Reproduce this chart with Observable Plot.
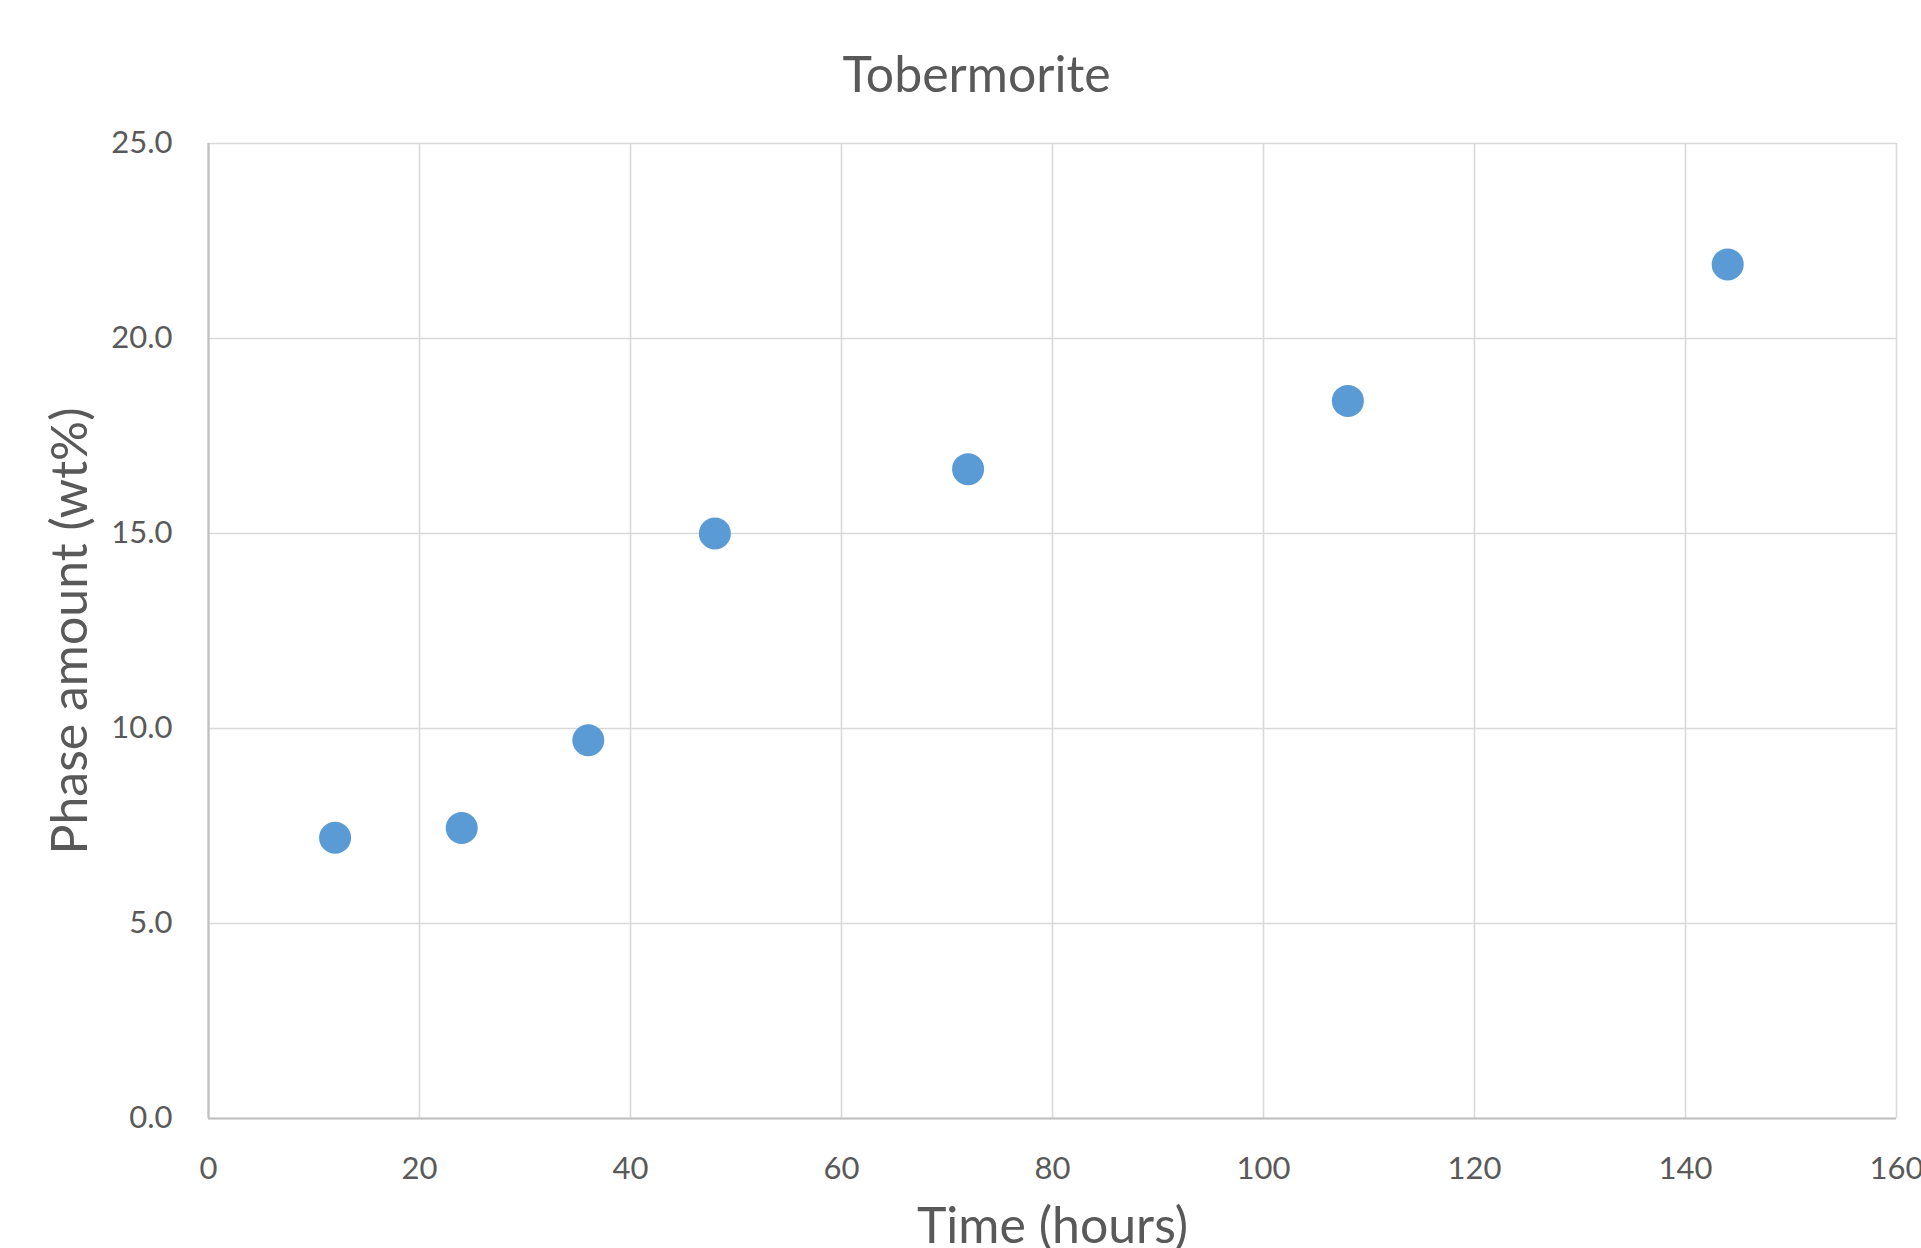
<!DOCTYPE html>
<html>
<head>
<meta charset="utf-8">
<script src="https://cdn.jsdelivr.net/npm/d3@7"></script>
<script src="https://cdn.jsdelivr.net/npm/@observablehq/plot@0.6"></script>
<style>
  html, body { margin: 0; padding: 0; background: #ffffff; }
  #chart svg { display: block; }
</style>
</head>
<body>
<div id="chart"></div>
<script>
// Tobermorite phase amount over hydrothermal curing time
const chartTitle = "Tobermorite";
const xLabel = "Time (hours)";
const yLabel = "Phase amount (wt%)";

const timeHours = [12, 24, 36, 48, 72, 108, 144];
const phaseAmount = [7.2, 7.45, 9.7, 15.0, 16.65, 18.4, 21.9];

const xTicks = [0, 20, 40, 60, 80, 100, 120, 140, 160];
const yTicks = [0, 5, 10, 15, 20, 25];

const data = timeHours.map((t, i) => ({time: t, amount: phaseAmount[i]}));

const textColor = "#595959";
const gridColor = "#D9D9D9";
const axisColor = "#BFBFBF";
const dotColor = "#5B9BD5";
const fontFamily = "Lato, 'Open Sans', sans-serif";

const chart = Plot.plot({
  width: 1921,
  height: 1248,
  marginLeft: 208,
  marginRight: 25,
  marginTop: 143,
  marginBottom: 130,
  style: {fontFamily, color: textColor, background: "#ffffff"},
  x: {domain: [0, 160], ticks: xTicks},
  y: {domain: [0, 25], ticks: yTicks},
  marks: [
    Plot.gridX(xTicks, {stroke: gridColor, strokeOpacity: 1, strokeWidth: 1.6}),
    Plot.gridY(yTicks, {stroke: gridColor, strokeOpacity: 1, strokeWidth: 1.6}),
    Plot.ruleX([0], {stroke: axisColor, strokeWidth: 2.2}),
    Plot.ruleY([0], {stroke: axisColor, strokeWidth: 2.2}),
    Plot.axisX(xTicks, {
      tickSize: 0, tickPadding: 38, fontSize: 31, fill: textColor,
      label: null
    }),
    Plot.axisY(yTicks, {
      tickSize: 0, tickPadding: 36, fontSize: 31, fill: textColor,
      tickFormat: d3.format(".1f"), label: null
    }),
    Plot.dot(data, {x: "time", y: "amount", r: 16, fill: dotColor, stroke: null}),
    Plot.text([chartTitle], {
      frameAnchor: "top", dx: -76, dy: -87,
      fontSize: 50, fill: textColor, fontFamily
    }),
    Plot.text([xLabel], {
      frameAnchor: "bottom", dy: 124,
      fontSize: 50, fill: textColor, fontFamily
    }),
    Plot.text([yLabel], {
      frameAnchor: "left", textAnchor: "middle", dx: -138, rotate: -90,
      fontSize: 50, fill: textColor, fontFamily
    })
  ]
});

document.getElementById("chart").appendChild(chart);
</script>
</body>
</html>
